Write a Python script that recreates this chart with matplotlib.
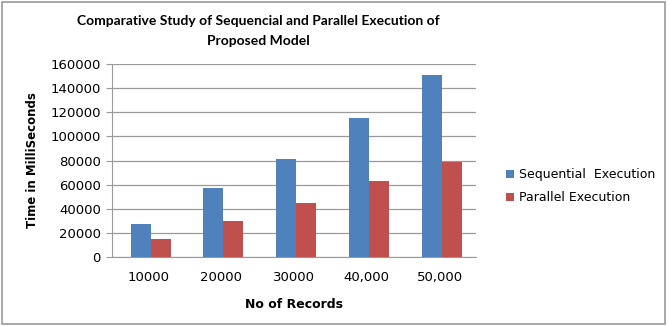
import matplotlib
matplotlib.use("Agg")
import matplotlib.pyplot as plt
import numpy as np
from matplotlib.patches import Rectangle

# Data
records = ["10000", "20000", "30000", "40,000", "50,000"]
sequential = [27500, 57500, 81000, 115500, 150500]
parallel = [15000, 29500, 44500, 63000, 78500]

W, H = 668, 326
fig = plt.figure(figsize=(W / 100, H / 100), dpi=100)

# plot area in pixels: x 112..476, y 64..257
ax = fig.add_axes([112 / W, 1 - 257 / H, (476 - 112) / W, (257 - 64) / H])

blue = "#4F81BD"
red = "#C0504D"
x = np.arange(len(records))
bw = 0.275
ax.bar(x + 0.03 - bw / 2, sequential, bw, color=blue, label="Sequential  Execution", zorder=3)
ax.bar(x + 0.03 + bw / 2, parallel, bw, color=red, label="Parallel Execution", zorder=3)

ax.set_xlim(-0.5, len(records) - 0.5)
ax.set_ylim(0, 160000)
ax.set_yticks(range(0, 160001, 20000))
ax.set_xticks(x)
ax.set_xticklabels(records)
ax.yaxis.grid(True, color="#9a9a9a", linewidth=0.9, zorder=0)

for s in ["top", "right"]:
    ax.spines[s].set_visible(False)
for s in ["left", "bottom"]:
    ax.spines[s].set_color("#9a9a9a")
ax.tick_params(axis="y", length=4, color="#9a9a9a", labelsize=9.5, pad=4)
ax.tick_params(axis="x", length=0, labelsize=9.5, pad=10)
for lbl in ax.get_xticklabels() + ax.get_yticklabels():
    lbl.set_fontfamily("DejaVu Sans")

ax.set_ylabel("Time in MilliSeconds", fontsize=8.5, fontweight="bold", labelpad=8)
ax.set_xlabel("No of Records", fontsize=9, fontweight="bold", labelpad=10)

fig.text(258 / W, 1 - 21 / H, "Comparative Study of Sequencial and Parallel Execution of",
         ha="center", va="center", fontsize=10, fontweight="bold", family="Lato")
fig.text(258 / W, 1 - 41 / H, "Proposed Model",
         ha="center", va="center", fontsize=10, fontweight="bold", family="Lato")

fig.legend(loc="center left", bbox_to_anchor=(495 / W, 1 - 186 / H), frameon=False,
           fontsize=9, handlelength=0.6, handleheight=0.6, handletextpad=0.4,
           labelspacing=0.8)

# outer chart border
fig.patches.append(Rectangle((2 / W, 2 / H), (W - 5) / W, (H - 4) / H,
                             transform=fig.transFigure, fill=False,
                             edgecolor="#9a9a9a", linewidth=1.2))

fig.savefig("out.png", dpi=100)
